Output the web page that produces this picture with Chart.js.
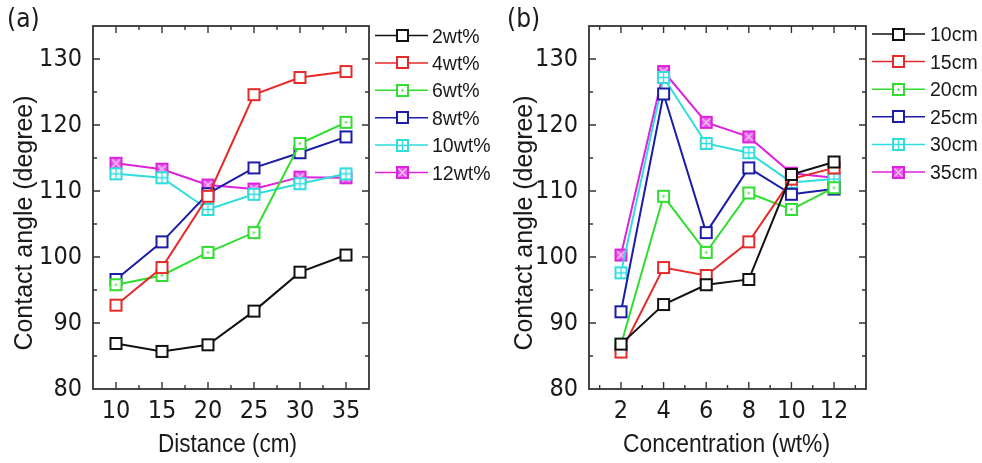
<!DOCTYPE html>
<html><head><meta charset="utf-8">
<script src="https://cdn.jsdelivr.net/npm/chart.js@4/dist/chart.umd.min.js"></script>
<style>
html,body{margin:0;padding:0;background:#fff;width:982px;height:463px;overflow:hidden}
#ca{position:absolute;left:0;top:0}
#cb{position:absolute;left:505px;top:0}
</style></head><body>
<canvas id="ca" width="505" height="463"></canvas>
<canvas id="cb" width="477" height="463"></canvas>
<script>
// ---- categories / tick labels ----
const distances = [10, 15, 20, 25, 30, 35];
const concentrations = [2, 4, 6, 8, 10, 12];
const yTicks = [80, 90, 100, 110, 120, 130];
const labelsA = ['2wt%', '4wt%', '6wt%', '8wt%', '10wt%', '12wt%'];
const labelsB = ['10cm', '15cm', '20cm', '25cm', '30cm', '35cm'];

// ---- panel (a): contact angle vs distance ----
const wt2  = [86.9, 85.7, 86.7, 91.8, 97.7, 100.3];
const wt4  = [92.7, 98.4, 109.2, 124.6, 127.2, 128.1];
const wt6  = [95.8, 97.2, 100.7, 103.7, 117.2, 120.4];
const wt8  = [96.6, 102.3, 109.6, 113.5, 115.8, 118.2];
const wt10 = [112.6, 112.0, 107.2, 109.5, 111.1, 112.6];
const wt12 = [114.2, 113.3, 110.9, 110.3, 112.1, 112.0];

// ---- panel (b): contact angle vs concentration ----
const cm10 = [86.8, 92.8, 95.8, 96.6, 112.5, 114.4];
const cm15 = [85.6, 98.4, 97.2, 102.3, 111.8, 113.5];
const cm20 = [86.7, 109.2, 100.7, 109.7, 107.2, 110.5];
const cm25 = [91.7, 124.7, 103.7, 113.5, 109.5, 110.3];
const cm30 = [97.6, 127.2, 117.2, 115.8, 111.3, 111.8];
const cm35 = [100.3, 128.1, 120.4, 118.2, 112.7, 112.0];

const COLORS = ['#111111', '#e52a2a', '#30dd30', '#1c1ca6', '#30dcdc', '#dd22dd'];
const MARKS = ['plain', 'plain', 'dot', 'plain', 'plus', 'x'];
const NARROW = "'Liberation Sans Narrow','Arial Narrow','DejaVu Sans Condensed',sans-serif";
const SANS = "'Liberation Sans',Arial,sans-serif";

function marker(color, kind) {
  const c = document.createElement('canvas');
  c.width = 15; c.height = 15;
  const g = c.getContext('2d');
  g.fillStyle = '#fff';
  g.fillRect(2, 2, 11, 11);
  if (kind === 'x') { g.fillStyle = color; g.globalAlpha = 0.75; g.fillRect(2, 2, 11, 11); g.globalAlpha = 1; }
  g.strokeStyle = color; g.lineWidth = 2;
  g.strokeRect(2, 2, 11, 11);
  g.lineWidth = 1.3;
  if (kind === 'dot') { g.fillStyle = color; g.fillRect(6.5, 6.5, 2, 2); }
  if (kind === 'plus') { g.beginPath(); g.moveTo(7.5, 3); g.lineTo(7.5, 12); g.moveTo(3, 7.5); g.lineTo(12, 7.5); g.stroke(); }
  if (kind === 'x') { g.strokeStyle = '#f8c8f8'; g.beginPath(); g.moveTo(3.5, 3.5); g.lineTo(11.5, 11.5); g.moveTo(11.5, 3.5); g.lineTo(3.5, 11.5); g.stroke(); }
  return c;
}
const MARKERS = COLORS.map((c, i) => marker(c, MARKS[i]));

function fitText(ctx, text, font, x, y, width, rotated) {
  ctx.save();
  ctx.font = font;
  const w = ctx.measureText(text).width;
  ctx.translate(x, y);
  if (rotated) ctx.rotate(-Math.PI / 2);
  ctx.scale(width / w, 1);
  ctx.textAlign = 'center';
  ctx.textBaseline = 'alphabetic';
  ctx.fillStyle = '#1a1a1a';
  ctx.fillText(text, 0, 0);
  ctx.restore();
}

const decorPlugin = {
  id: 'decor',
  beforeDatasetsDraw(chart, args, o) {
    const { ctx, chartArea: a, scales: { x, y } } = chart;
    ctx.save();
    ctx.strokeStyle = '#333';
    ctx.lineWidth = 1.4;
    ctx.beginPath();
    const xs = o.xStep / 2, ys = 5;
    for (let v = x.min + 1e-9; v < x.max; v += 1e-9) { break; }
    const xMaj = [], xMin = [];
    for (let v = o.xFirst; v <= x.max + 1e-9; v += xs) {
      if (Math.abs(v - x.max) < 1e-6) continue;
      (Math.round((v - o.xFirst) / xs) % 2 === 0 ? xMaj : xMin).push(v);
    }
    for (let v = o.xFirst - xs; v > x.min + 1e-6; v -= xs) xMin.push(v);
    const yMaj = [], yMin = [];
    for (let v = y.min; v < y.max - 1e-6; v += ys) {
      if (v === y.min) continue;
      (((v - y.min) / ys) % 2 === 0 ? yMaj : yMin).push(v);
    }
    xMaj.forEach(v => { const p = x.getPixelForValue(v); ctx.moveTo(p, a.bottom); ctx.lineTo(p, a.bottom - 7); ctx.moveTo(p, a.top); ctx.lineTo(p, a.top + 7); });
    xMin.forEach(v => { const p = x.getPixelForValue(v); ctx.moveTo(p, a.bottom); ctx.lineTo(p, a.bottom - 4); ctx.moveTo(p, a.top); ctx.lineTo(p, a.top + 4); });
    yMaj.forEach(v => { const p = y.getPixelForValue(v); ctx.moveTo(a.left, p); ctx.lineTo(a.left + 7, p); ctx.moveTo(a.right, p); ctx.lineTo(a.right - 7, p); });
    yMin.forEach(v => { const p = y.getPixelForValue(v); ctx.moveTo(a.left, p); ctx.lineTo(a.left + 4, p); ctx.moveTo(a.right, p); ctx.lineTo(a.right - 4, p); });
    ctx.stroke();
    ctx.lineWidth = 1.8;
    ctx.strokeRect(a.left, a.top, a.right - a.left, a.bottom - a.top);
    ctx.restore();
  },
  afterDraw(chart, args, o) {
    const { ctx } = chart;
    // axis titles
    fitText(ctx, o.xTitle, '25px ' + SANS, o.xTitleX, 451.5, o.xTitleW, false);
    fitText(ctx, 'Contact angle (degree)', '25px ' + SANS, o.yTitleX, 223, 255, true);
    // panel label
    ctx.save();
    ctx.font = '26px ' + NARROW;
    ctx.fillStyle = '#1a1a1a';
    ctx.textBaseline = 'alphabetic';
    ctx.textAlign = 'left';
    ctx.fillText(o.panel, o.panelX, 27);
    ctx.restore();
    // legend
    const L = o.legend;
    chart.data.datasets.forEach((ds, i) => {
      const cy = L.y0 + i * L.dy;
      ctx.save();
      ctx.strokeStyle = ds.borderColor;
      ctx.lineWidth = 1.5;
      ctx.beginPath();
      ctx.moveTo(L.x0, cy); ctx.lineTo(L.x1, cy);
      ctx.stroke();
      const m = ds.pointStyle;
      ctx.drawImage(m, Math.round(L.xm - m.width / 2), Math.round(cy - m.height / 2));
      ctx.font = '19.5px ' + SANS;
      ctx.fillStyle = '#1a1a1a';
      ctx.textBaseline = 'alphabetic';
      ctx.fillText(ds.label, L.xt, cy + 7);
      ctx.restore();
    });
  }
};

function buildChart(id, xVals, xMin, xMax, series, labels, o) {
  return new Chart(document.getElementById(id), {
    type: 'line',
    data: {
      datasets: series.map((s, i) => ({
        label: labels[i],
        data: s.map((v, k) => ({ x: xVals[k], y: v })),
        borderColor: COLORS[i],
        backgroundColor: COLORS[i],
        borderWidth: 2,
        pointStyle: MARKERS[i],
        pointRadius: 7,
        pointHoverRadius: 7,
        tension: 0,
        fill: false
      }))
    },
    options: {
      responsive: false,
      animation: false,
      devicePixelRatio: 1,
      layout: { padding: { left: 0, right: o.padRight, top: 22, bottom: 0 } },
      scales: {
        x: {
          type: 'linear', min: xMin, max: xMax,
          grid: { display: false, drawTicks: false },
          border: { display: false },
          afterBuildTicks: s => { s.ticks = xVals.map(v => ({ value: v })); },
          afterFit: s => { s.height = 74; },
          ticks: { font: { family: NARROW, size: 25 }, color: '#1a1a1a', padding: 7, maxRotation: 0, autoSkip: false }
        },
        y: {
          type: 'linear', min: 80, max: 135,
          grid: { display: false, drawTicks: false },
          border: { display: false },
          afterBuildTicks: s => { s.ticks = yTicks.map(v => ({ value: v })); },
          afterFit: s => { s.width = o.yWidth; },
          ticks: { font: { family: NARROW, size: 25 }, color: '#1a1a1a', padding: 11 }
        }
      },
      plugins: {
        legend: { display: false },
        tooltip: { enabled: false },
        decor: o.decor
      }
    },
    plugins: [decorPlugin]
  });
}

buildChart('ca', distances, 7.5, 37.5, [wt2, wt4, wt6, wt8, wt10, wt12], labelsA, {
  padRight: 136, yWidth: 93,
  decor: {
    xStep: 5, xFirst: 10,
    xTitle: 'Distance (cm)', xTitleX: 227.5, xTitleW: 139,
    yTitleX: 31.5, panel: '(a)', panelX: 7,
    legend: { x0: 375, x1: 428, xm: 402, xt: 432, y0: 35.5, dy: 27.4 }
  }
});

buildChart('cb', concentrations, 0.5, 13.5, [cm10, cm15, cm20, cm25, cm30, cm35], labelsB, {
  padRight: 116, yWidth: 84,
  decor: {
    xStep: 2, xFirst: 2,
    xTitle: 'Concentration (wt%)', xTitleX: 221.5, xTitleW: 207,
    yTitleX: 26.5, panel: '(b)', panelX: 2,
    legend: { x0: 367, x1: 420, xm: 393, xt: 425, y0: 34, dy: 27.6 }
  }
});
</script>
</body></html>
